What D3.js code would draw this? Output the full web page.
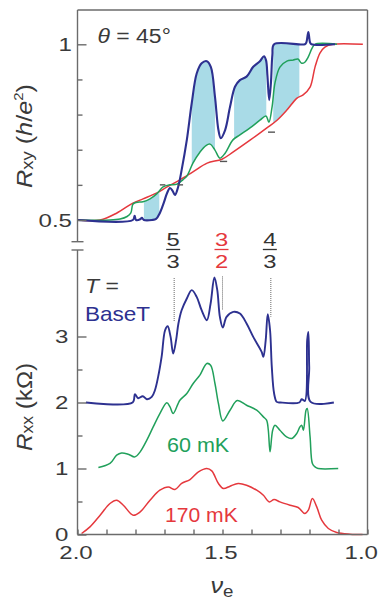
<!DOCTYPE html>
<html>
<head>
<meta charset="utf-8">
<script src="https://cdn.jsdelivr.net/npm/d3@7"></script>
<style>
  body { margin: 0; background: #fff; }
  svg { display: block; font-family: "Liberation Sans", Arial, Helvetica, sans-serif; }
</style>
</head>
<body>
<svg id="chart" width="380" height="600"></svg>
<script>
// Hall resistance Rxy (h/e^2) versus filling factor, [nu, Rxy]
const rxyBaseT = [
  [2.000,0.500],[1.809,0.500],[1.803,0.512],[1.798,0.500],[1.784,0.502],[1.778,0.506],
  [1.771,0.500],[1.743,0.500],[1.729,0.503],[1.716,0.520],[1.702,0.550],[1.691,0.577],
  [1.681,0.591],[1.672,0.583],[1.664,0.571],[1.653,0.594],[1.641,0.642],[1.623,0.728],
  [1.606,0.833],[1.589,0.917],[1.572,0.946],[1.554,0.952],[1.540,0.935],[1.526,0.851],
  [1.514,0.756],[1.506,0.733],[1.491,0.756],[1.474,0.822],[1.457,0.879],[1.440,0.898],
  [1.417,0.908],[1.394,0.936],[1.371,0.952],[1.357,0.966],[1.350,0.955],[1.345,0.910],
  [1.339,0.841],[1.333,0.890],[1.328,0.970],[1.322,1.000],[1.216,1.000],[1.211,1.005],
  [1.204,1.035],[1.198,1.005],[1.193,1.000],[1.112,1.000]
];
const rxy60mK = [
  [2.000,0.500],[1.888,0.500],[1.853,0.503],[1.829,0.510],[1.816,0.520],[1.809,0.545],
  [1.798,0.550],[1.774,0.552],[1.750,0.560],[1.726,0.575],[1.705,0.594],[1.681,0.600],
  [1.657,0.602],[1.636,0.615],[1.622,0.626],[1.602,0.662],[1.578,0.693],[1.557,0.712],
  [1.543,0.716],[1.526,0.699],[1.509,0.676],[1.491,0.690],[1.464,0.728],[1.440,0.742],
  [1.405,0.762],[1.371,0.784],[1.350,0.796],[1.340,0.778],[1.329,0.822],[1.319,0.890],
  [1.302,0.935],[1.278,0.952],[1.257,0.955],[1.240,0.958],[1.227,0.946],[1.216,0.949],
  [1.205,0.963],[1.191,0.989],[1.181,1.000],[1.105,1.000]
];
const rxy170mK = [
  [2.000,0.500],[1.922,0.500],[1.864,0.520],[1.809,0.548],[1.774,0.560],[1.726,0.577],
  [1.691,0.594],[1.647,0.614],[1.602,0.637],[1.553,0.662],[1.502,0.673],[1.464,0.693],
  [1.405,0.727],[1.347,0.762],[1.312,0.784],[1.278,0.813],[1.243,0.847],[1.222,0.856],
  [1.198,0.878],[1.181,0.935],[1.164,0.975],[1.147,0.992],[1.119,1.000],[1.016,1.000]
];

// Longitudinal resistance Rxx (kOhm) before vertical offset, [nu, Rxx]
const rxxBaseT = [
  [1.971,0.000],[1.810,0.000],[1.802,0.126],[1.791,0.065],[1.775,0.095],[1.761,0.050],
  [1.744,0.085],[1.733,0.186],[1.722,0.388],[1.710,0.691],[1.698,1.095],[1.689,1.156],
  [1.679,0.994],[1.670,0.742],[1.660,0.944],[1.652,1.197],[1.641,1.398],[1.623,1.576],
  [1.606,1.702],[1.589,1.600],[1.572,1.398],[1.554,1.247],[1.541,1.500],[1.528,1.894],
  [1.518,1.702],[1.509,1.297],[1.499,1.136],[1.486,1.297],[1.463,1.373],[1.440,1.348],
  [1.417,1.197],[1.394,0.994],[1.365,0.767],[1.359,0.691],[1.351,0.944],[1.344,1.338],
  [1.336,1.095],[1.330,0.539],[1.322,0.136],[1.313,0.009],[1.300,0.000],[1.235,0.000],
  [1.227,0.050],[1.216,0.024],[1.208,0.944],[1.204,1.070],[1.201,0.540],[1.196,0.009],
  [1.116,0.000]
];
const rxx60mK = [
  [1.928,0.015],[1.888,0.076],[1.865,0.202],[1.848,0.236],[1.825,0.217],[1.802,0.176],
  [1.784,0.252],[1.761,0.429],[1.739,0.630],[1.716,0.833],[1.692,0.997],[1.681,0.933],
  [1.670,0.833],[1.647,1.035],[1.623,1.136],[1.601,1.288],[1.578,1.414],[1.554,1.591],
  [1.541,1.565],[1.526,1.288],[1.514,0.985],[1.499,0.721],[1.474,0.883],[1.449,1.030],
  [1.417,0.959],[1.382,0.883],[1.359,0.782],[1.348,0.732],[1.342,0.580],[1.336,0.252],
  [1.327,0.580],[1.319,0.656],[1.302,0.580],[1.279,0.479],[1.261,0.455],[1.244,0.530],
  [1.233,0.630],[1.227,0.656],[1.221,0.580],[1.212,0.883],[1.208,0.909],[1.198,0.479],
  [1.190,0.076],[1.181,0.024],[1.170,0.000],[1.101,0.000]
];
const rxx170mK = [
  [1.986,0.015],[1.957,0.115],[1.922,0.292],[1.888,0.470],[1.865,0.520],[1.842,0.444],
  [1.808,0.292],[1.784,0.342],[1.750,0.520],[1.716,0.671],[1.687,0.721],[1.664,0.682],
  [1.641,0.773],[1.612,0.833],[1.583,0.948],[1.554,1.000],[1.537,0.964],[1.514,0.773],
  [1.497,0.697],[1.474,0.732],[1.446,0.773],[1.417,0.747],[1.382,0.671],[1.359,0.595],
  [1.339,0.494],[1.322,0.530],[1.302,0.494],[1.267,0.444],[1.239,0.409],[1.216,0.318],
  [1.204,0.368],[1.190,0.545],[1.175,0.418],[1.158,0.217],[1.135,0.091],[1.106,0.030],
  [1.060,0.005],[1.017,0.000]
];
const rxxOffsets = [2, 1, 0];

const seriesNames = ["BaseT", "60 mK", "170 mK"];
const seriesColors = ["#2d3190", "#21a05b", "#e5383d"];
const shadeColor = "#a9dbe7";

// Filling-factor windows shaded between the BaseT trace and a warmer trace
const shadedRanges = [
  { from: 1.771, to: 1.718, lower: "60 mK" },
  { from: 1.606, to: 1.526, lower: "60 mK" },
  { from: 1.460, to: 1.349, lower: "60 mK" },
  { from: 1.325, to: 1.235, lower: "170 mK" }
];

// Fractional filling factors marked on the Rxx panel
const fractionNums = [5, 3, 4];
const fractionDens = [3, 2, 3];
const fractionColors = ["#333333", "#e5383d", "#333333"];
const fractionGuideTops = [3.886, 3.91, 3.886];
const fractionGuideBottoms = [3.22, 3.40, 3.30];

// Axes
const xTicks = [2.0, 1.9, 1.8, 1.7, 1.6, 1.5, 1.4, 1.3, 1.2, 1.1, 1.0];
const xTickValuesLabelled = [2.0, 1.5, 1.0];
const xTickLabels = ["2.0", "1.5", "1.0"];
const rxyMajorTicks = [0.5, 1];
const rxyMajorLabels = ["0.5", "1"];
const rxyMinorTicks = [0.6, 0.7, 0.8, 0.9];
const rxxMajorTicks = [0, 1, 2, 3];
const rxxMinorTicks = [0.5, 1.5, 2.5];

// ---------- layout ----------
const svg = d3.select("#chart");
const L = 77.5, R = 367.5, T = 10, B = 534.5;
const breakTop = 241.7, breakBottom = 250;

const x = d3.scaleLinear().domain([2.0, 1.0]).range([L, R]);
const yTop = d3.scaleLinear().domain([0.5, 1.0]).range([220, 44.3]);
const yBot = d3.scaleLinear().domain([0, 3]).range([B, B - 198]);

const ink = "#3a3a3a";
const frameColor = "#6b6b6b";

// text helper: places a (slightly widened) text element
function label(parent, px, py, opts) {
  const g = parent.append("g")
    .attr("transform", `translate(${px},${py})${opts.rotate ? ` rotate(${opts.rotate})` : ""} scale(${opts.sx || 1.15},1)`);
  const t = g.append("text")
    .attr("text-anchor", opts.anchor || "start")
    .attr("font-size", opts.size || 20)
    .attr("fill", opts.color || ink);
  return t;
}

// ---------- shaded regions (top panel) ----------
const curve = d3.curveCatmullRom.alpha(0.5);
const rxyLine = d3.line().x(d => x(d[0])).y(d => yTop(d[1])).curve(curve);
const rxySeries = { "BaseT": rxyBaseT, "60 mK": rxy60mK, "170 mK": rxy170mK };

const defs = svg.append("defs");
shadedRanges.forEach((r, i) => {
  defs.append("clipPath").attr("id", "shade" + i)
    .append("rect")
    .attr("x", x(r.from)).attr("width", x(r.to) - x(r.from))
    .attr("y", T).attr("height", breakTop - T);
  const upper = rxyLine(rxyBaseT);
  const lower = rxyLine(rxySeries[r.lower].slice().reverse()).replace(/^M/, "L");
  svg.append("path")
    .attr("d", upper + lower + "Z")
    .attr("fill", shadeColor)
    .attr("stroke", "none")
    .attr("clip-path", `url(#shade${i})`);
});

// ---------- Rxy traces ----------
[["170 mK", rxy170mK, 1.5], ["60 mK", rxy60mK, 1.5], ["BaseT", rxyBaseT, 2.1]].forEach(([name, data, w]) => {
  svg.append("path")
    .attr("d", rxyLine(data))
    .attr("fill", "none")
    .attr("stroke", seriesColors[seriesNames.indexOf(name)])
    .attr("stroke-width", w)
    .attr("stroke-linejoin", "round");
});

// quantized plateau markers at nu = 5/3, 3/2, 4/3 (Rxy = 1/nu)
const plateauMarks = [
  [1.716, 1.697, 0.6], [1.655, 1.636, 0.6],
  [1.509, 1.484, 2 / 3], [1.343, 1.319, 0.75]
];
plateauMarks.forEach(([a, b, v]) => {
  svg.append("line")
    .attr("x1", x(a)).attr("x2", x(b))
    .attr("y1", yTop(v)).attr("y2", yTop(v))
    .attr("stroke", "#555").attr("stroke-width", 1.4);
});

// ---------- Rxx traces ----------
const rxxData = [rxxBaseT, rxx60mK, rxx170mK];
const rxxLine = off => d3.line().x(d => x(d[0])).y(d => yBot(d[1] + off)).curve(curve);
[2, 1, 0].forEach(i => {
  svg.append("path")
    .attr("d", rxxLine(rxxOffsets[i])(rxxData[i]))
    .attr("fill", "none")
    .attr("stroke", seriesColors[i])
    .attr("stroke-width", i === 0 ? 1.9 : 1.5)
    .attr("stroke-linejoin", "round");
});

// fraction guides and labels
fractionNums.forEach((n, i) => {
  const nu = n / fractionDens[i];
  const cx = x(nu);
  svg.append("line")
    .attr("x1", cx).attr("x2", cx)
    .attr("y1", yBot(fractionGuideTops[i])).attr("y2", yBot(fractionGuideBottoms[i]))
    .attr("stroke", "#666").attr("stroke-width", 1)
    .attr("stroke-dasharray", "1,1");
  const lx = cx - 1;
  label(svg, lx, 245.5, { anchor: "middle", size: 19, color: fractionColors[i], sx: 1.25 }).text(n);
  svg.append("line")
    .attr("x1", lx - 7).attr("x2", lx + 7)
    .attr("y1", 249.5).attr("y2", 249.5)
    .attr("stroke", fractionColors[i]).attr("stroke-width", 1.3);
  label(svg, lx, 268.3, { anchor: "middle", size: 19, color: fractionColors[i], sx: 1.25 }).text(fractionDens[i]);
});

// ---------- frame ----------
const frame = svg.append("g").attr("stroke", frameColor).attr("stroke-width", 1.4).attr("fill", "none");
frame.append("line").attr("x1", L).attr("x2", R).attr("y1", T).attr("y2", T);
frame.append("line").attr("x1", L).attr("x2", R).attr("y1", B).attr("y2", B);
frame.append("line").attr("x1", R).attr("x2", R).attr("y1", T).attr("y2", B);
frame.append("line").attr("x1", L).attr("x2", L).attr("y1", T).attr("y2", breakTop);
frame.append("line").attr("x1", L).attr("x2", L).attr("y1", breakBottom).attr("y2", B);
frame.append("line").attr("x1", L - 6).attr("x2", L + 6).attr("y1", breakTop).attr("y2", breakTop);
frame.append("line").attr("x1", L - 6).attr("x2", L + 6).attr("y1", breakBottom).attr("y2", breakBottom);

// tick marks via d3 axes (drawn inward)
function ticks(axis, tx, ty) {
  const g = svg.append("g").attr("transform", `translate(${tx},${ty})`).call(axis);
  g.select(".domain").remove();
  g.selectAll("text").remove();
  g.selectAll("line").attr("stroke", frameColor).attr("stroke-width", 1.4);
  return g;
}
ticks(d3.axisLeft(yTop).tickValues(rxyMajorTicks).tickSizeInner(-9).tickSizeOuter(0), L, 0);
ticks(d3.axisLeft(yTop).tickValues(rxyMinorTicks).tickSizeInner(-5).tickSizeOuter(0), L, 0);
ticks(d3.axisLeft(yBot).tickValues(rxxMajorTicks).tickSizeInner(-9).tickSizeOuter(0), L, 0);
ticks(d3.axisLeft(yBot).tickValues(rxxMinorTicks).tickSizeInner(-5).tickSizeOuter(0), L, 0);
ticks(d3.axisBottom(x).tickValues(xTicks).tickSizeInner(-5).tickSizeOuter(0), 0, B);

// tick labels
rxyMajorTicks.forEach((v, i) => {
  label(svg, 72, yTop(v) + 6.6, { anchor: "end", size: 18.5, sx: 1.3 }).text(rxyMajorLabels[i]);
});
rxxMajorTicks.forEach(v => {
  label(svg, 68.5, yBot(v) + 6.6, { anchor: "end", size: 18.5, sx: 1.3 }).text(v);
});
xTickValuesLabelled.forEach((v, i) => {
  const last = i === xTickValuesLabelled.length - 1;
  // the right-most label is kept inside the canvas edge
  label(svg, last ? x(v) + 10.5 : x(v) - 1.5, 559.3, { anchor: last ? "end" : "middle", size: 18.5, sx: 1.3 })
    .text(xTickLabels[i]);
});

// axis titles
const yt1 = label(svg, 32, 136, { anchor: "middle", size: 22, rotate: -90, sx: 1.15 });
yt1.append("tspan").attr("font-style", "italic").text("R");
yt1.append("tspan").attr("font-size", 16).attr("dy", 1).text("xy");
yt1.append("tspan").attr("dy", -1).text(" (");
yt1.append("tspan").attr("font-style", "italic").text("h");
yt1.append("tspan").text("/");
yt1.append("tspan").attr("font-style", "italic").text("e");
yt1.append("tspan").attr("font-size", 13).attr("dy", -9).text("2");
yt1.append("tspan").attr("dy", 9).text(")");

const yt2 = label(svg, 32, 407, { anchor: "middle", size: 22, rotate: -90, sx: 1.1 });
yt2.append("tspan").attr("font-style", "italic").text("R");
yt2.append("tspan").attr("font-size", 16).attr("dy", 1).text("xx");
yt2.append("tspan").attr("dy", -1).text(" (k\u03A9)");

const xt = label(svg, 222, 593, { anchor: "middle", size: 23, sx: 1.1 });
xt.append("tspan").attr("font-style", "italic").text("\u03BD");
xt.append("tspan").attr("font-size", 17).attr("dy", 4).text("e");

// annotations
const th = label(svg, 97.5, 43.3, { size: 20.5, sx: 1.12 });
th.append("tspan").attr("font-style", "italic").text("\u03B8");
th.append("tspan").text(" = 45\u00B0");

const tl = label(svg, 85, 293.3, { size: 20.5, sx: 1.12 });
tl.append("tspan").attr("font-style", "italic").text("T");
tl.append("tspan").text(" =");
label(svg, 85, 321.3, { size: 20.5, color: seriesColors[0], sx: 1.1 }).text(seriesNames[0]);
label(svg, 167, 451.7, { size: 20.5, color: seriesColors[1], sx: 1.05 }).text(seriesNames[1]);
label(svg, 165, 522, { size: 20.5, color: seriesColors[2], sx: 1.03 }).text(seriesNames[2]);
</script>
</body>
</html>
